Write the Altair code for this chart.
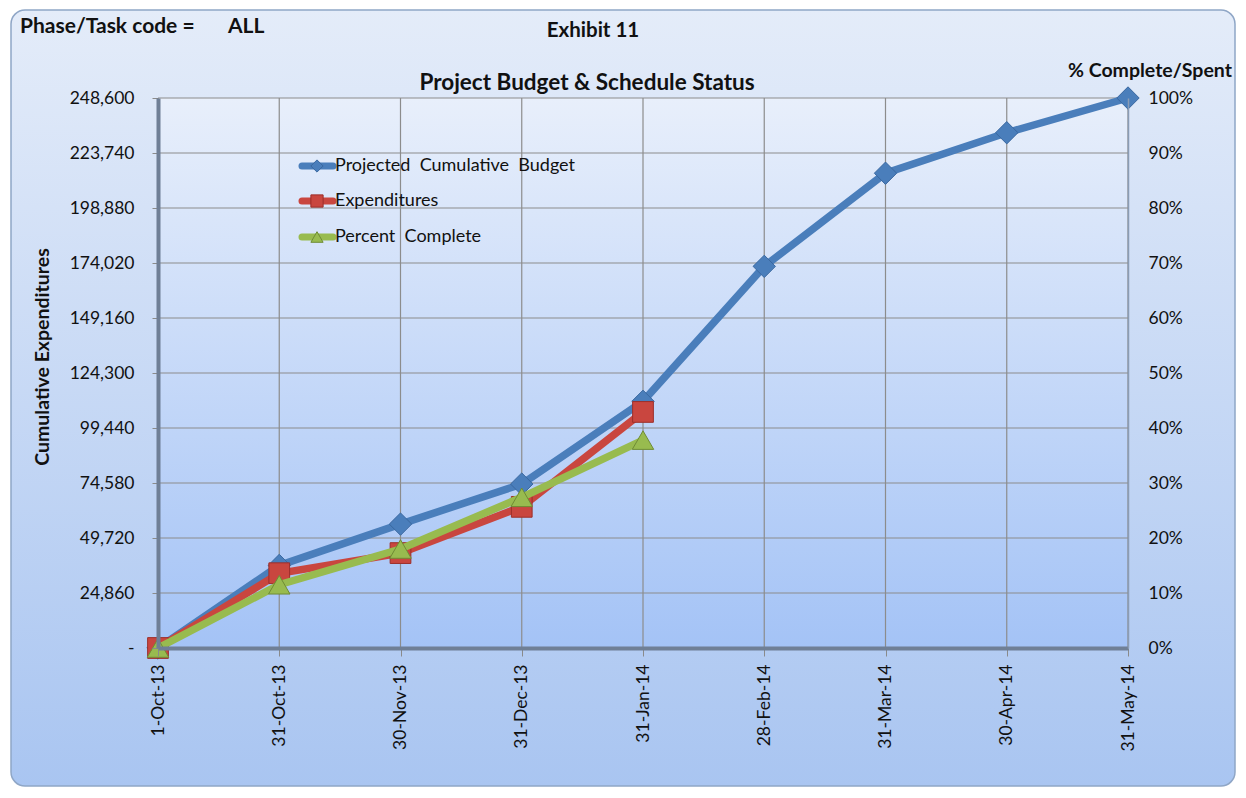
import altair as alt
import pandas as pd

# ---------------- data ----------------
dates = ["1-Oct-13", "31-Oct-13", "30-Nov-13", "31-Dec-13", "31-Jan-14",
         "28-Feb-14", "31-Mar-14", "30-Apr-14", "31-May-14"]
budget = [0, 37300, 56000, 74100, 111500, 172500, 214600, 232900, 248600]
exp_dates = ["1-Oct-13", "31-Oct-13", "30-Nov-13", "31-Dec-13", "31-Jan-14"]
expenditures = [0, 33800, 42900, 63800, 106700]
pct_dates = ["1-Oct-13", "31-Oct-13", "30-Nov-13", "31-Dec-13", "31-Jan-14"]
percent_complete = [0.0, 0.115, 0.18, 0.274, 0.378]

left_ticks = [0, 24860, 49720, 74580, 99440, 124300, 149160, 174020, 198880, 223740, 248600]
right_ticks = [0, 0.1, 0.2, 0.3, 0.4, 0.5, 0.6, 0.7, 0.8, 0.9, 1.0]

series_names = ["Projected Cumulative Budget", "Expenditures", "Percent Complete"]
series_colors = ["#4a7ebb", "#c9463f", "#98bb4f"]
series_strokes = ["#3a68a0", "#9c2f2a", "#6f8c35"]
series_shapes = ["diamond", "square", "triangle-up"]

money_df = pd.DataFrame(
    [{"series": series_names[0], "date": d, "value": v} for d, v in zip(dates, budget)]
    + [{"series": series_names[1], "date": d, "value": v} for d, v in zip(exp_dates, expenditures)]
)
pct_df = pd.DataFrame({"date": pct_dates, "pct": percent_complete})
lt_df = pd.DataFrame({"value": left_ticks})
date_df = pd.DataFrame({"date": dates})
one = pd.DataFrame({"a": [0]})

W, H = 970, 550
FONT = "Lato"
TICK_FS = 17.5

# ---------------- encodings ----------------
x_axis = alt.Axis(title=None, labelAngle=-90, labelFontSize=TICK_FS, labelFont=FONT,
                  labelColor="#111111", grid=False, domainColor="#6f7f96",
                  domainWidth=4, tickColor="#8a8a8a", tickSize=8, labelPadding=8,
                  zindex=1)
x_enc = alt.X("date:N", sort=dates, scale=alt.Scale(type="point", padding=0),
              axis=x_axis, title=None)

y_axis = alt.Axis(title=None, values=left_ticks, grid=False,
                  labelExpr="datum.value == 0 ? '-' : format(datum.value, ',')",
                  labelFontSize=TICK_FS, labelFont=FONT, labelColor="#111111",
                  domainColor="#6f7f96", domainWidth=4, tickColor="#8a8a8a",
                  tickSize=6, labelPadding=18, orient="left", zindex=1)
y_scale = alt.Scale(domain=[0, 248600], nice=False, zero=True)

r_axis = alt.Axis(title=None, values=right_ticks, format=".0%", grid=False,
                  labelFontSize=TICK_FS, labelFont=FONT, labelColor="#111111",
                  domainColor="#8a9cb5", domainWidth=1.5, ticks=False,
                  labelPadding=20, orient="right", zindex=1)
r_scale = alt.Scale(domain=[0, 1], nice=False, zero=True)

# ---------------- backgrounds ----------------
outer_grad = alt.LinearGradient(
    gradient="linear",
    stops=[alt.GradientStop(color="#e4ecf9", offset=0),
           alt.GradientStop(color="#a9c5f1", offset=1)],
    x1=0, x2=0, y1=0, y2=1)
plot_grad = alt.LinearGradient(
    gradient="linear",
    stops=[alt.GradientStop(color="#e8effb", offset=0),
           alt.GradientStop(color="#a4c3f6", offset=1)],
    x1=0, x2=0, y1=0, y2=1)

outer_bg = alt.Chart(one).mark_rect(
    color=outer_grad, cornerRadius=14, stroke="#8fa6c6", strokeWidth=1.5
).encode(x=alt.value(-147), x2=alt.value(1077), y=alt.value(-88), y2=alt.value(688))

plot_bg = alt.Chart(one).mark_rect(color=plot_grad).encode(
    x=alt.value(0), x2=alt.value(W), y=alt.value(0), y2=alt.value(H))

# ---------------- money layer (left axis) ----------------
hgrid = alt.Chart(lt_df).mark_rule(color="#8c8c8c", strokeWidth=1.2).encode(
    y=alt.Y("value:Q", scale=y_scale, axis=y_axis, title=None))
vgrid = alt.Chart(date_df).mark_rule(color="#8c8c8c", strokeWidth=1.2).encode(x=x_enc)

blue_df = money_df[money_df.series == series_names[0]]
red_df = money_df[money_df.series == series_names[1]]


def line_layer(df, color):
    return alt.Chart(df).mark_line(strokeWidth=7.5, color=color).encode(
        x=x_enc, y=alt.Y("value:Q", scale=y_scale, axis=y_axis, title=None))


def pts_layer(df, color, stroke, shape, size):
    return alt.Chart(df).mark_point(filled=True, size=size, opacity=1, color=color,
                                    stroke=stroke, strokeWidth=1, shape=shape).encode(
        x=x_enc, y=alt.Y("value:Q", scale=y_scale, axis=y_axis, title=None))


money = alt.layer(
    hgrid, vgrid,
    line_layer(blue_df, series_colors[0]),
    pts_layer(blue_df, series_colors[0], series_strokes[0], "diamond", 500),
    line_layer(red_df, series_colors[1]),
    pts_layer(red_df, series_colors[1], series_strokes[1], "square", 430),
)

# ---------------- percent layer (right axis) ----------------
pct_line = alt.Chart(pct_df).mark_line(strokeWidth=7.5, color=series_colors[2]).encode(
    x=x_enc, y=alt.Y("pct:Q", scale=r_scale, axis=r_axis, title=None))
pct_pts = alt.Chart(pct_df).mark_point(filled=True, size=460, opacity=1, color=series_colors[2],
                                       stroke=series_strokes[2], strokeWidth=1,
                                       shape="triangle-up").encode(
    x=x_enc, y=alt.Y("pct:Q", scale=r_scale, axis=r_axis, title=None))
pct = alt.layer(pct_line, pct_pts)

# ---------------- legend (inside plot) ----------------
legend_layers = []
legend_y = [68, 103, 139]
for name, col, stc, shp, ly in zip(series_names, series_colors, series_strokes, series_shapes, legend_y):
    legend_layers.append(alt.Chart(one).mark_rule(color=col, strokeWidth=7, strokeCap="round").encode(
        x=alt.value(144), x2=alt.value(175), y=alt.value(ly)))
    legend_layers.append(alt.Chart(one).mark_point(filled=True, opacity=1, color=col, stroke=stc,
                                                   strokeWidth=1, shape=shp, size=150).encode(
        x=alt.value(159), y=alt.value(ly)))
    legend_layers.append(alt.Chart(one).mark_text(text=name.replace(" ", "\u00a0 "), font=FONT,
                                                  fontSize=18, color="#111111", align="left",
                                                  baseline="middle").encode(
        x=alt.value(177), y=alt.value(ly)))


# ---------------- texts ----------------
def txt(s, x, y, size=16, weight="normal", align="left", angle=0, baseline="alphabetic"):
    kw = dict(text=s, font=FONT, fontSize=size, fontWeight=weight, color="#111111",
              align=align, baseline=baseline)
    if angle:
        kw["angle"] = angle
    return alt.Chart(one).mark_text(**kw).encode(x=alt.value(x), y=alt.value(y))


texts = [
    txt("Phase/Task code =", -138, -65, size=21, weight="bold"),
    txt("ALL", 70, -65, size=21, weight="bold"),
    txt("Exhibit 11", 435, -61, size=20.5, weight="bold", align="center"),
    txt("Project Budget & Schedule Status", 429, -8, size=22.5, weight="bold", align="center"),
    txt("% Complete/Spent", 910, -21, size=19.5, weight="bold"),
    txt("Cumulative Expenditures", -115, 259, size=19.5, weight="bold", align="center",
        angle=270, baseline="middle"),
]

chart = alt.layer(outer_bg, plot_bg, money, pct, *legend_layers, *texts).resolve_scale(
    y="independent"
).properties(
    width=W, height=H,
    autosize=alt.AutoSizeParams(type="none"),
    padding={"left": 150, "top": 90, "right": 110, "bottom": 140},
    background="white",
).configure_view(stroke=None)

chart.save("out.html", embed_options={"renderer": "svg", "actions": False})
